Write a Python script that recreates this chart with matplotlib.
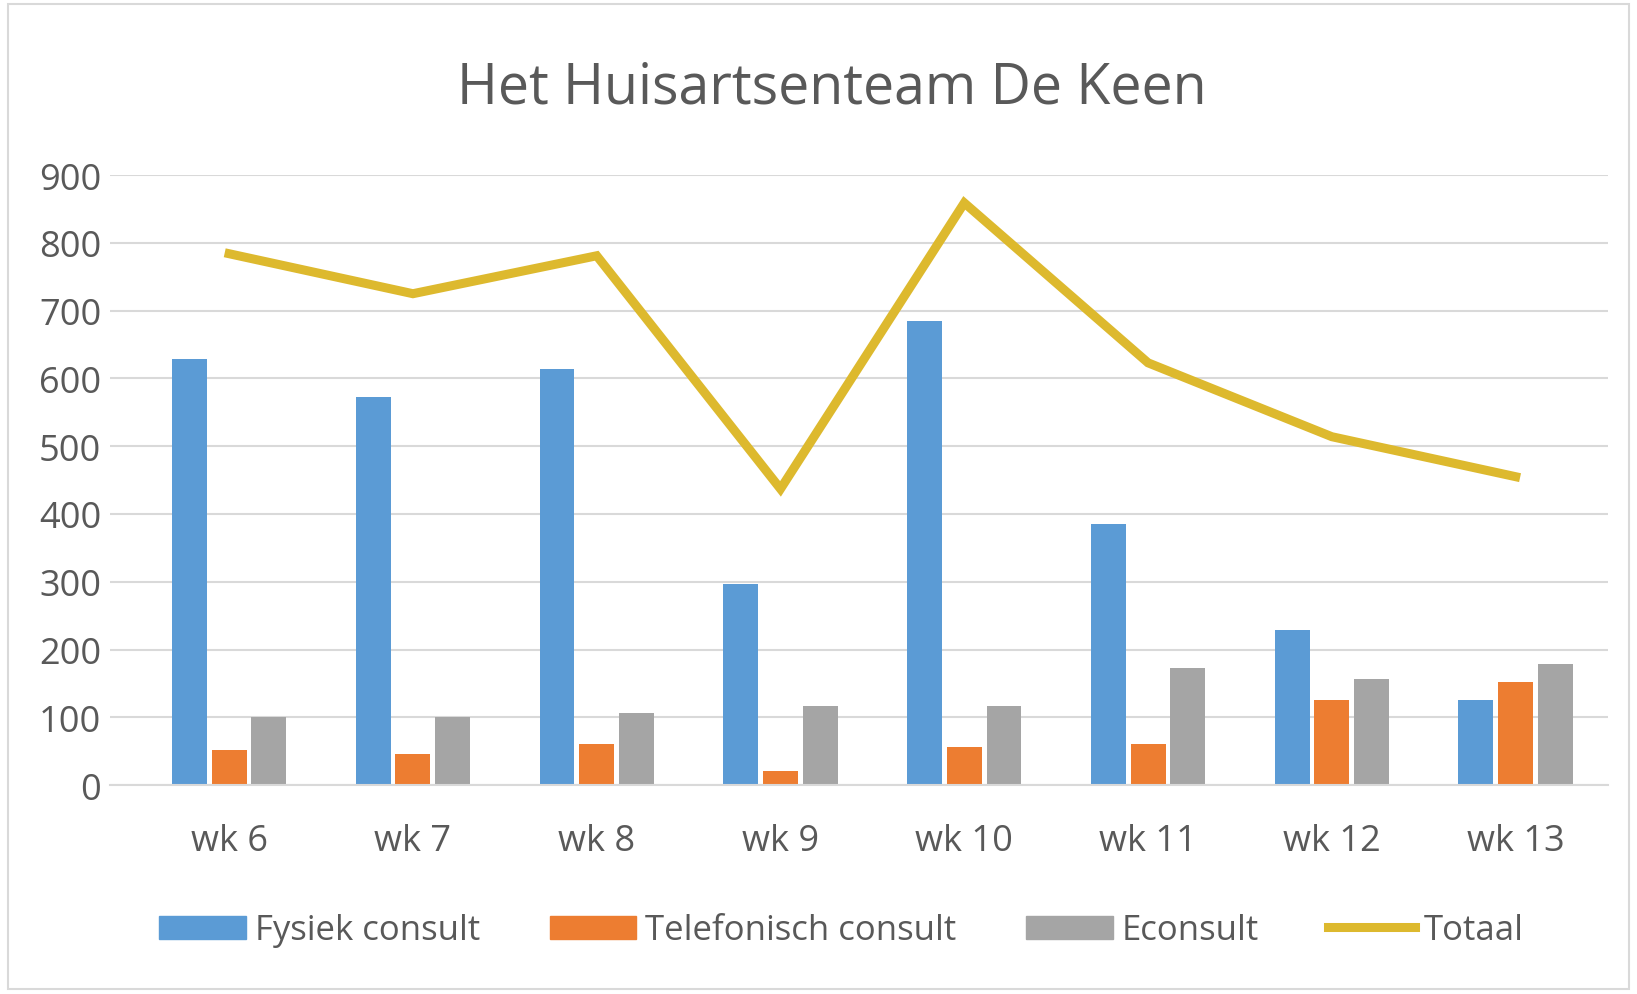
#!/usr/bin/env python3
"""Weekly consult counts for Het Huisartsenteam De Keen."""

import matplotlib

matplotlib.use("Agg")
import matplotlib.pyplot as plt
import numpy as np
from matplotlib.lines import Line2D
from matplotlib.patches import Patch, Rectangle

WEEKS = ["wk 6", "wk 7", "wk 8", "wk 9", "wk 10", "wk 11", "wk 12", "wk 13"]
FYSIEK = [629, 573, 614, 297, 684, 385, 229, 126]
TELEFONISCH = [52, 46, 61, 21, 56, 61, 126, 152]
ECONSULT = [100, 100, 107, 117, 116, 172, 157, 178]
TOTAAL = [784, 725, 781, 437, 859, 623, 514, 455]
Y_TICKS = [0, 100, 200, 300, 400, 500, 600, 700, 800, 900]

BLUE = "#5B9BD5"
ORANGE = "#ED7D31"
GRAY = "#A5A5A5"
GOLD = "#DDB92E"
TEXT = "#595959"
GRID = "#D9D9D9"

plt.rcParams["font.family"] = ["Open Sans", "DejaVu Sans"]

fig = plt.figure(figsize=(16.37, 9.95), dpi=100)
ax = fig.add_axes([0.067, 0.21, 0.915, 0.613])

x = np.arange(len(WEEKS))
width = 0.19
offset = 0.216
ax.bar(x - offset, FYSIEK, width, color=BLUE, zorder=2)
ax.bar(x, TELEFONISCH, width, color=ORANGE, zorder=2)
ax.bar(x + offset, ECONSULT, width, color=GRAY, zorder=2)
ax.plot(x, TOTAAL, color=GOLD, linewidth=6.5, solid_joinstyle="miter", zorder=3)

ax.set_xlim(-0.65, len(WEEKS) - 0.5)
ax.set_ylim(0, 900)
ax.set_yticks(Y_TICKS)
ax.set_xticks(x)
ax.set_xticklabels(WEEKS)
ax.tick_params(axis="both", length=0, labelsize=26, labelcolor=TEXT)
ax.tick_params(axis="x", pad=27)
ax.tick_params(axis="y", pad=6)
ax.grid(axis="y", color=GRID, linewidth=1.5, zorder=0)
for side in ["left", "right", "top"]:
    ax.spines[side].set_visible(False)
ax.spines["bottom"].set_color(GRID)
ax.spines["bottom"].set_linewidth(1.5)

fig.text(0.508, 0.911, "Het Huisartsenteam De Keen", ha="center", va="center",
         fontsize=40, color=TEXT)

handles = [
    Patch(color=BLUE, label="Fysiek consult"),
    Patch(color=ORANGE, label="Telefonisch consult"),
    Patch(color=GRAY, label="Econsult"),
    Line2D([], [], color=GOLD, linewidth=6.5, label="Totaal"),
]
fig.legend(handles=handles, loc="center", bbox_to_anchor=(0.514, 0.064), ncol=4,
           frameon=False, fontsize=25, labelcolor=TEXT, handlelength=2.5,
           handleheight=0.65, handletextpad=0.25, columnspacing=2.0)

fig.patches.append(Rectangle((0.005, 0.005), 0.99, 0.99, transform=fig.transFigure,
                             fill=False, edgecolor=GRID, linewidth=1.5))

fig.savefig("out.png", dpi=100)
